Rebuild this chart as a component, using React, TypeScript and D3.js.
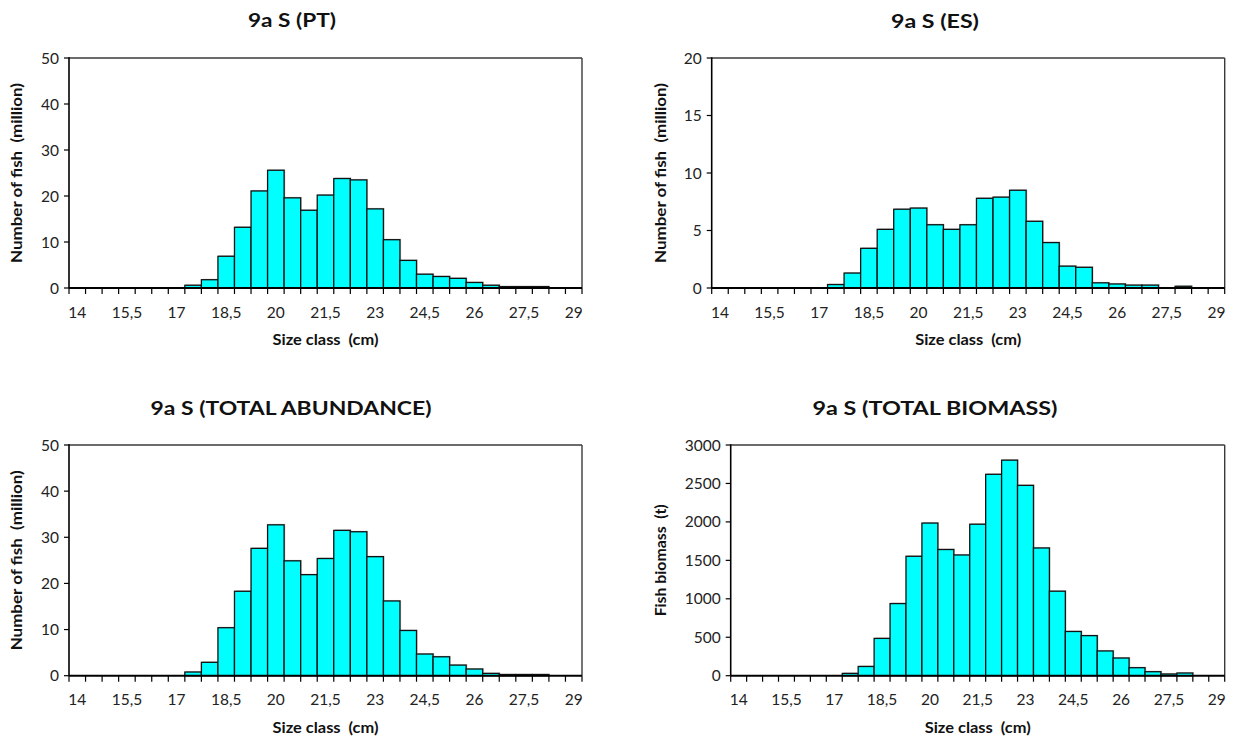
import React from "react";
import * as d3 from "d3";

// ---------- data ----------
const sizeClasses = [
  14, 14.5, 15, 15.5, 16, 16.5, 17, 17.5, 18, 18.5, 19, 19.5, 20, 20.5, 21, 21.5,
  22, 22.5, 23, 23.5, 24, 24.5, 25, 25.5, 26, 26.5, 27, 27.5, 28, 28.5, 29,
];
const xTickLabels = ["14", "15,5", "17", "18,5", "20", "21,5", "23", "24,5", "26", "27,5", "29"];

const ptAbundance = [
  0, 0, 0, 0, 0, 0, 0, 0.6, 1.8, 6.9, 13.2, 21.1, 25.6, 19.6, 16.9, 20.2,
  23.8, 23.5, 17.2, 10.5, 6.0, 3.0, 2.5, 2.1, 1.2, 0.6, 0.3, 0.3, 0.3, 0, 0,
];
const esAbundance = [
  0, 0, 0, 0, 0, 0, 0, 0.3, 1.3, 3.45, 5.1, 6.85, 6.95, 5.5, 5.1, 5.5,
  7.8, 7.9, 8.5, 5.8, 3.95, 1.9, 1.8, 0.45, 0.35, 0.25, 0.25, 0, 0.15, 0, 0,
];
const totalAbundance = [
  0, 0, 0, 0, 0, 0, 0, 0.8, 2.9, 10.4, 18.3, 27.6, 32.7, 24.9, 21.9, 25.4,
  31.5, 31.2, 25.8, 16.2, 9.8, 4.7, 4.1, 2.3, 1.45, 0.5, 0.25, 0.25, 0.25, 0, 0,
];
const totalBiomass = [
  0, 0, 0, 0, 0, 0, 0, 30, 120, 485, 938, 1553, 1985, 1641, 1570, 1970,
  2619, 2803, 2475, 1661, 1099, 575, 521, 322, 230, 104, 52, 22, 35, 0, 0,
];

const ticksPT = [0, 10, 20, 30, 40, 50];
const ticksES = [0, 5, 10, 15, 20];
const ticksBiomass = [0, 500, 1000, 1500, 2000, 2500, 3000];

// ---------- layout ----------
const FONT = "Lato, 'Open Sans', 'Noto Sans', sans-serif";

type Panel = {
  title: string;
  yLabel: string;
  values: number[];
  yTicks: number[];
  left: number;
  right: number;
  top: number;
  bottom: number;
  titleX: number;
  titleY: number;
  titleLen: number;
  yLabelX: number;
  yLabelLen: number;
  xLabelY: number;
};

const panels: Panel[] = [
  {
    title: "9a S (PT)", yLabel: "Number of fish  (million)", values: ptAbundance, yTicks: ticksPT,
    left: 69, right: 582, top: 58, bottom: 288, titleX: 292, titleY: 20, titleLen: 88,
    yLabelX: 17, yLabelLen: 180, xLabelY: 340,
  },
  {
    title: "9a S (ES)", yLabel: "Number of fish  (million)", values: esAbundance, yTicks: ticksES,
    left: 711.7, right: 1224.7, top: 58, bottom: 288, titleX: 935, titleY: 21, titleLen: 88,
    yLabelX: 661, yLabelLen: 180, xLabelY: 340,
  },
  {
    title: "9a S (TOTAL ABUNDANCE)", yLabel: "Number of fish  (million)", values: totalAbundance, yTicks: ticksPT,
    left: 69, right: 582, top: 445, bottom: 675.7, titleX: 291, titleY: 408, titleLen: 281,
    yLabelX: 17, yLabelLen: 180, xLabelY: 728,
  },
  {
    title: "9a S (TOTAL BIOMASS)", yLabel: "Fish biomass  (t)", values: totalBiomass, yTicks: ticksBiomass,
    left: 730.7, right: 1224.7, top: 445, bottom: 675.7, titleX: 935, titleY: 408, titleLen: 245,
    yLabelX: 660.5, yLabelLen: 112, xLabelY: 728,
  },
];

function fmt(v: number) {
  return String(v).replace(".", ",");
}

function Chart({ p }: { p: Panel }) {
  const x = d3
    .scaleBand<number>()
    .domain(sizeClasses)
    .range([p.left, p.right])
    .paddingInner(0)
    .paddingOuter(0);
  const yMax = p.yTicks[p.yTicks.length - 1];
  const y = d3.scaleLinear().domain([0, yMax]).range([p.bottom, p.top]);
  const bw = x.bandwidth();
  const boundaries = sizeClasses.map((c) => x(c) as number).concat([p.right]);

  return (
    <g>
      {/* title */}
      <text
        x={p.titleX}
        y={p.titleY}
        dy="0.36em"
        textAnchor="middle"
        fontFamily={FONT}
        fontWeight="bold"
        fontSize={19}
        textLength={p.titleLen}
        lengthAdjust="spacingAndGlyphs"
        fill="#111"
      >
        {p.title}
      </text>

      {/* frame top & right */}
      <line x1={p.left} x2={p.right} y1={p.top} y2={p.top} stroke="#3a3a3a" strokeWidth={1.4} />
      <line x1={p.right} x2={p.right} y1={p.top} y2={p.bottom} stroke="#3a3a3a" strokeWidth={1.4} />

      {/* bar shadows */}
      {p.values.map((v, i) =>
        v > 0 ? (
          <rect
            key={"s" + i}
            x={(x(sizeClasses[i]) as number) + 1.2}
            y={y(v) - 1}
            width={bw}
            height={p.bottom - y(v)}
            fill="#9a9a9a"
            opacity={0.45}
          />
        ) : null
      )}
      {/* bars */}
      {p.values.map((v, i) =>
        v > 0 ? (
          <rect
            key={"b" + i}
            x={x(sizeClasses[i]) as number}
            y={y(v)}
            width={bw}
            height={p.bottom - y(v)}
            fill="#00FFFF"
            stroke="#111"
            strokeWidth={1.3}
          />
        ) : null
      )}

      {/* y axis */}
      <line x1={p.left} x2={p.left} y1={p.top - 0.7} y2={p.bottom} stroke="#000" strokeWidth={1.6} />
      {p.yTicks.map((t) => (
        <g key={"yt" + t}>
          <line x1={p.left - 5} x2={p.left} y1={y(t)} y2={y(t)} stroke="#000" strokeWidth={1.2} />
          <text
            x={p.left - 10}
            y={y(t)}
            dy="0.36em"
            textAnchor="end"
            fontFamily={FONT}
            fontSize={15.5}
            fill="#222"
          >
            {fmt(t)}
          </text>
        </g>
      ))}

      {/* x axis */}
      <line x1={p.left} x2={p.right} y1={p.bottom} y2={p.bottom} stroke="#000" strokeWidth={2} />
      {boundaries.map((bx, i) => (
        <line key={"xt" + i} x1={bx} x2={bx} y1={p.bottom} y2={p.bottom + 6} stroke="#000" strokeWidth={1.2} />
      ))}
      {xTickLabels.map((lab, k) => {
        const c = sizeClasses[k * 3];
        return (
          <text
            key={"xl" + k}
            x={(x(c) as number) + bw / 2}
            y={p.bottom + 24}
            dy="0.36em"
            textAnchor="middle"
            fontFamily={FONT}
            fontSize={15.5}
            fill="#222"
          >
            {lab}
          </text>
        );
      })}

      {/* axis titles */}
      <text
        x={(p.left + p.right) / 2}
        y={p.xLabelY}
        dy="0.36em"
        textAnchor="middle"
        fontFamily={FONT}
        fontWeight="bold"
        fontSize={14.5}
        textLength={106}
        lengthAdjust="spacingAndGlyphs"
        fill="#111"
        style={{ whiteSpace: "pre" }}
      >
        {"Size class  (cm)"}
      </text>
      <text
        transform={`translate(${p.yLabelX},${(p.top + p.bottom) / 2}) rotate(-90)`}
        dy="0.36em"
        textAnchor="middle"
        fontFamily={FONT}
        fontWeight="bold"
        fontSize={14.5}
        textLength={p.yLabelLen}
        lengthAdjust="spacingAndGlyphs"
        fill="#111"
        style={{ whiteSpace: "pre" }}
      >
        {p.yLabel}
      </text>
    </g>
  );
}

export default function App() {
  return (
    <svg
      width={1235}
      height={742}
      style={{ position: "absolute", left: 0, top: 0, background: "#fff" }}
    >
      <rect x={0} y={0} width={1235} height={742} fill="#fff" />
      {panels.map((p, i) => (
        <Chart key={i} p={p} />
      ))}
    </svg>
  );
}
